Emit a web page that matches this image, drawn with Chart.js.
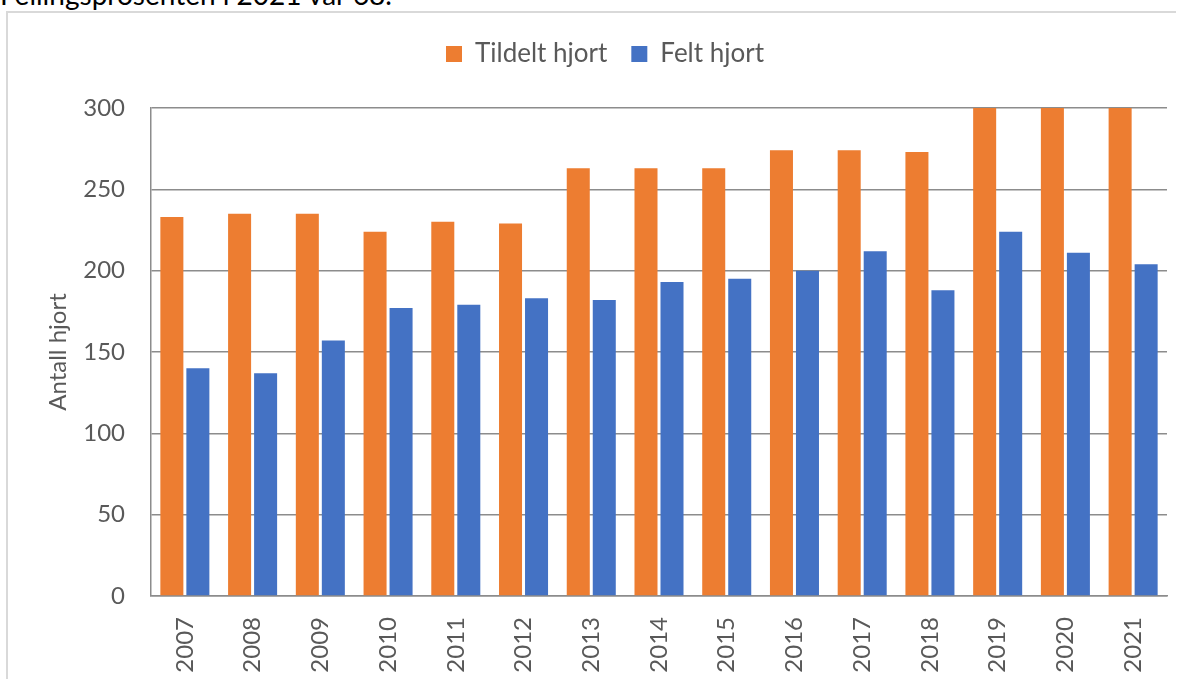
<!DOCTYPE html>
<html>
<head>
<meta charset="utf-8">
<script src="https://cdn.jsdelivr.net/npm/chart.js@4.4.1/dist/chart.umd.min.js"></script>
<style>
  html, body { margin: 0; padding: 0; background: #fff; overflow: hidden; }
  #note { position: absolute; left: 0; top: -20px; font-family: Lato, sans-serif; font-size: 28px; line-height: 28px; color: #000; white-space: nowrap; }
  #frame { position: absolute; left: 6px; top: 11px; width: 1170px; height: 668px; border-left: 2px solid #d9d9d9; border-top: 2px solid #d9d9d9; box-sizing: border-box; }
  #wrap { position: absolute; left: 7px; top: 12px; width: 1234px; height: 667px; }
</style>
</head>
<body>
<div id="note">Fellingsprosenten i 2021 var 68.</div>
<div id="frame"></div>
<div id="wrap"><canvas id="c"></canvas></div>
<script>
const years = ['2007','2008','2009','2010','2011','2012','2013','2014','2015','2016','2017','2018','2019','2020','2021'];
const tildelt = [233, 235, 235, 224, 230, 229, 263, 263, 263, 274, 274, 273, 300, 300, 300];
const felt = [140, 137, 157, 177, 179, 183, 182, 193, 195, 200, 212, 188, 224, 211, 204];
const seriesNames = ['Tildelt hjort', 'Felt hjort'];
const yTitle = 'Antall hjort';

const textColor = '#595959';
const gridColor = '#8c8c8c';
const fam = 'Lato, sans-serif';

const shiftLegend = {
  id: 'shiftLegend',
  afterLayout(chart) {
    const l = chart.legend;
    if (l) { l.left += 18; l.right += 18; }
  }
};

new Chart(document.getElementById('c'), {
  type: 'bar',
  data: {
    labels: years,
    datasets: [
      { label: seriesNames[0], data: tildelt, backgroundColor: '#ED7D31', categoryPercentage: 0.768, barPercentage: 0.885 },
      { label: seriesNames[1], data: felt, backgroundColor: '#4472C4', categoryPercentage: 0.768, barPercentage: 0.885 }
    ]
  },
  plugins: [shiftLegend],
  options: {
    responsive: true,
    maintainAspectRatio: false,
    animation: false,
    layout: { padding: { top: 5, left: 0, right: 74, bottom: 0 } },
    plugins: {
      legend: {
        position: 'top',
        labels: { color: textColor, font: { family: fam, size: 26 }, boxWidth: 16, boxHeight: 16, padding: 24 }
      },
      subtitle: { display: true, text: ' ', weight: 500, font: { size: 10, lineHeight: 1 }, padding: { top: 21, bottom: 0 } },
      tooltip: { enabled: false }
    },
    scales: {
      x: {
        grid: { display: false, drawTicks: false },
        border: { display: true, color: gridColor, width: 1.5 },
        ticks: { color: textColor, font: { family: fam, size: 24 }, minRotation: 90, maxRotation: 90, padding: 21, autoSkip: false },
        afterFit: (s) => { s.height = 83; }
      },
      y: {
        min: 0, max: 300,
        grid: { color: gridColor, lineWidth: 1.5, drawTicks: false },
        border: { display: true, color: gridColor, width: 1.5 },
        ticks: { stepSize: 50, color: textColor, font: { family: fam, size: 24 }, padding: 26 },
        title: { display: true, text: yTitle, color: textColor, font: { family: fam, size: 24 }, padding: { top: 37, bottom: 0 } },
        afterFit: (s) => { s.width = 144; }
      }
    }
  }
});
</script>
</body>
</html>
